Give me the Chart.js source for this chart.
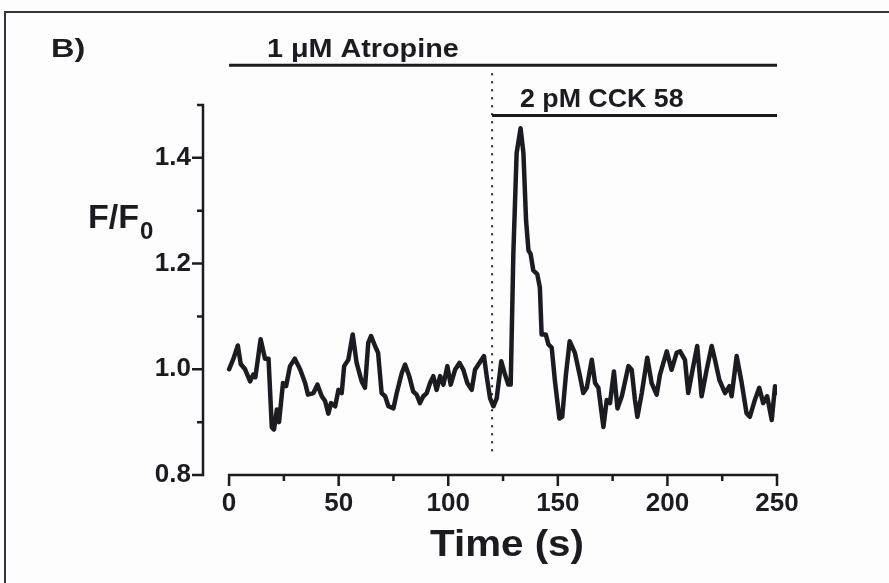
<!DOCTYPE html>
<html>
<head>
<meta charset="utf-8">
<title>F/F0 trace - Atropine + CCK 58</title>
<script src="https://cdn.jsdelivr.net/npm/chart.js@4.4.1/dist/chart.umd.min.js"></script>
<style>
  html, body { margin: 0; padding: 0; background: #fdfdfd; }
  #wrap { width: 889px; height: 583px; position: relative; }
</style>
</head>
<body>
<div id="wrap"><canvas id="traceChart" width="889" height="583"></canvas></div>
<script>
// 시간(s) / 형광비 F/F0 — 그림에서 읽은 값
const times = [
  0, 2, 4, 5.3, 7.3, 9.6, 11, 12, 14.4, 16.4, 18, 19.5, 20.5, 21.8, 22.8, 24.6, 26, 27.8, 30, 32.4,
  34.7, 36, 38.5, 40.3, 42.3, 43.8, 45.3, 46.5, 48.4, 49.9, 51.4, 52.5, 54.4, 56.4, 58.2, 60.5, 62, 63.5, 64.8, 66.6,
  68, 69.6, 71.2, 72.7, 75, 76.5, 78.8, 80.3, 82.2, 84, 85.6, 87.1, 88.6, 90.2, 91.7, 93.2, 94.7, 96.3, 97.8, 99.6,
  101.1, 103.1, 105.1, 106.9, 108.7, 110.7, 112.2, 114.2, 116.3, 117.6, 119.1, 120.6, 122.1, 124.2, 125.9, 127.4, 128.5, 129.7, 131.2, 133,
  134.3, 135.5, 136.6, 137.6, 138.8, 140.6, 141.8, 142.6, 144.5, 145.7, 147.2, 148.7, 150.7, 152, 153.7, 155.4, 157.8, 160.1, 161.6, 163.2,
  165.5, 167, 168.5, 170.8, 172.3, 173.8, 175.6, 177.2, 179.2, 182.2, 183.7, 185.2, 186.3, 188.3, 190.8, 192.8, 195.1, 196.6, 199.7, 201.9,
  204.2, 205.8, 208, 209.5, 211.8, 213.6, 215.6, 217.9, 220.2, 221.7, 223.7, 226.3, 228.3, 229.3, 231.6, 233.9, 236.1, 237.6, 239.9, 241.9,
  243.7, 245.5, 247.6, 249.1, 250,
];
const ratio = [
  1.00, 1.02, 1.045, 1.01, 1.00, 0.977, 0.99, 0.985, 1.057, 1.02, 1.02, 0.89, 0.886, 0.924, 0.90, 0.974, 0.968, 1.006, 1.02, 1.00,
  0.974, 0.952, 0.955, 0.971, 0.949, 0.94, 0.916, 0.936, 0.93, 0.961, 0.955, 1.006, 1.018, 1.066, 1.012, 0.977, 0.965, 1.05, 1.063, 1.044,
  1.031, 0.955, 0.949, 0.93, 0.926, 0.955, 0.993, 1.009, 0.987, 0.958, 0.952, 0.936, 0.949, 0.955, 0.974, 0.987, 0.961, 0.987, 0.971, 1.006,
  0.971, 0.999, 1.012, 0.999, 0.974, 0.961, 0.999, 1.012, 1.025, 0.985, 0.945, 0.93, 0.945, 1.015, 0.99, 0.971, 0.971, 1.218, 1.409, 1.456,
  1.409, 1.282, 1.225, 1.218, 1.187, 1.18, 1.155, 1.066, 1.066, 1.047, 1.041, 0.977, 0.907, 0.91, 0.99, 1.053, 1.031, 0.987, 0.955, 0.965,
  1.018, 0.974, 0.965, 0.891, 0.942, 0.936, 0.996, 0.926, 0.949, 1.006, 0.999, 0.942, 0.91, 0.955, 1.022, 0.974, 0.952, 0.99, 1.034, 0.999,
  1.031, 1.034, 1.018, 0.955, 1.006, 1.044, 0.949, 0.999, 1.044, 1.018, 0.98, 0.955, 0.968, 0.949, 1.025, 0.974, 0.917, 0.91, 0.942, 0.965,
  0.936, 0.949, 0.904, 0.968, 0.955,
];

// 축 눈금
const xMajorTicks = [0, 50, 100, 150, 200, 250];
const xMinorTicks = [25, 75, 125, 175, 225];
const yMajorTicks = [0.8, 1.0, 1.2, 1.4];
const yMinorTicks = [0.9, 1.1, 1.3, 1.5];

// 약물 처리 구간 (s) 과 표시 높이 (F/F0 단위)
const atropineSpan = [0, 250];
const atropineLevel = 1.575;
const cckSpan = [120, 250];
const cckLevel = 1.48;
const cckStartDots = [0.835, 1.56];

const INK = '#1b1b22';
const FONT = '"Liberation Sans", Arial, sans-serif';

// 가로로 약간 늘린 글자 (원본 그림이 가로로 늘어나 있음)
function wideText(ctx, text, x, y, stretch) {
  ctx.save();
  ctx.translate(x, y);
  ctx.scale(stretch, 1);
  ctx.fillText(text, 0, 0);
  ctx.restore();
}

// 축선/보조 눈금/주석 그리기 (Origin 스타일: x축과 y축이 떨어져 있음)
const annotatePlugin = {
  id: 'annotate',
  afterDraw(chart) {
    const { ctx, scales: { x, y } } = chart;
    ctx.save();
    ctx.strokeStyle = INK;
    ctx.fillStyle = INK;
    ctx.lineWidth = 2.5;
    ctx.lineCap = 'butt';

    // y축
    const yAxisX = chart.chartArea.left;
    ctx.beginPath();
    ctx.moveTo(yAxisX, y.getPixelForValue(0.8) + 1.2);
    ctx.lineTo(yAxisX, y.getPixelForValue(1.5) - 1.2);
    yMajorTicks.forEach(v => { const py = y.getPixelForValue(v); ctx.moveTo(yAxisX, py); ctx.lineTo(yAxisX - 11, py); });
    yMinorTicks.forEach(v => { const py = y.getPixelForValue(v); ctx.moveTo(yAxisX, py); ctx.lineTo(yAxisX - 6, py); });
    ctx.stroke();

    // x축
    const xAxisY = y.getPixelForValue(0.8);
    ctx.beginPath();
    ctx.moveTo(x.getPixelForValue(0) - 1.2, xAxisY);
    ctx.lineTo(x.getPixelForValue(250) + 1.2, xAxisY);
    xMajorTicks.forEach(v => { const px = x.getPixelForValue(v); ctx.moveTo(px, xAxisY); ctx.lineTo(px, xAxisY + 11); });
    xMinorTicks.forEach(v => { const px = x.getPixelForValue(v); ctx.moveTo(px, xAxisY); ctx.lineTo(px, xAxisY + 6); });
    ctx.stroke();

    // 처리 구간 막대
    ctx.lineWidth = 3;
    ctx.beginPath();
    ctx.moveTo(x.getPixelForValue(atropineSpan[0]), y.getPixelForValue(atropineLevel));
    ctx.lineTo(x.getPixelForValue(atropineSpan[1]), y.getPixelForValue(atropineLevel));
    ctx.moveTo(x.getPixelForValue(cckSpan[0]), y.getPixelForValue(cckLevel));
    ctx.lineTo(x.getPixelForValue(cckSpan[1]), y.getPixelForValue(cckLevel));
    ctx.stroke();

    // CCK 투여 시점 점선
    ctx.lineWidth = 2;
    ctx.setLineDash([2, 6]);
    ctx.beginPath();
    ctx.moveTo(x.getPixelForValue(cckSpan[0]), y.getPixelForValue(cckStartDots[1]));
    ctx.lineTo(x.getPixelForValue(cckSpan[0]), y.getPixelForValue(cckStartDots[0]));
    ctx.stroke();
    ctx.setLineDash([]);

    // 텍스트
    ctx.textBaseline = 'alphabetic';
    ctx.textAlign = 'left';
    ctx.font = `bold 25px ${FONT}`;
    wideText(ctx, 'B)', 51, 57, 1.3);
    wideText(ctx, '1 \u03BCM Atropine', 267, 57, 1.15);
    wideText(ctx, '2 pM CCK 58', 520, 107, 1.07);

    // F/F0 (아래첨자 0)
    ctx.font = `bold 34px ${FONT}`;
    ctx.fillText('F/F', 88, 228);
    const w = ctx.measureText('F/F').width;
    ctx.font = `bold 24px ${FONT}`;
    ctx.fillText('0', 88 + w + 1, 239);

    // x축 제목
    ctx.textAlign = 'center';
    ctx.font = `bold 36px ${FONT}`;
    wideText(ctx, 'Time (s)', x.getPixelForValue(125) + 4, 556, 1.12);

    // 바깥 테두리
    ctx.strokeStyle = '#34343f';
    ctx.lineWidth = 2;
    ctx.beginPath();
    ctx.moveTo(5, 600);
    ctx.lineTo(5, 12);
    ctx.lineTo(900, 12);
    ctx.stroke();
    ctx.restore();
  },
};

const ctx = document.getElementById('traceChart');
new Chart(ctx, {
  type: 'line',
  data: {
    datasets: [{
      label: 'F/F0',
      data: times.map((t, i) => ({ x: t, y: ratio[i] })),
      borderColor: INK,
      borderWidth: 4.5,
      borderJoinStyle: 'round',
      borderCapStyle: 'round',
      pointRadius: 0,
      tension: 0,
      fill: false,
    }],
  },
  options: {
    responsive: false,
    animation: false,
    layout: { padding: { left: 100, right: 112, top: 105, bottom: 0 } },
    plugins: { legend: { display: false }, tooltip: { enabled: false } },
    scales: {
      x: {
        type: 'linear',
        min: -11.9,
        max: 250,
        afterFit: s => { s.height = 108; },
        afterBuildTicks: s => { s.ticks = xMajorTicks.map(v => ({ value: v })); },
        grid: { display: false, drawTicks: false },
        border: { display: false },
        ticks: {
          padding: 13,
          color: INK,
          maxRotation: 0,
          font: { family: FONT, size: 26, weight: 'bold' },
        },
      },
      y: {
        min: 0.8,
        max: 1.5,
        afterFit: s => { s.width = 103; },
        afterBuildTicks: s => { s.ticks = yMajorTicks.map(v => ({ value: v })); },
        grid: { display: false, drawTicks: false },
        border: { display: false },
        ticks: {
          padding: 12,
          color: INK,
          font: { family: FONT, size: 26, weight: 'bold' },
          callback: v => v.toFixed(1),
        },
      },
    },
  },
  plugins: [annotatePlugin],
});
</script>
</body>
</html>
